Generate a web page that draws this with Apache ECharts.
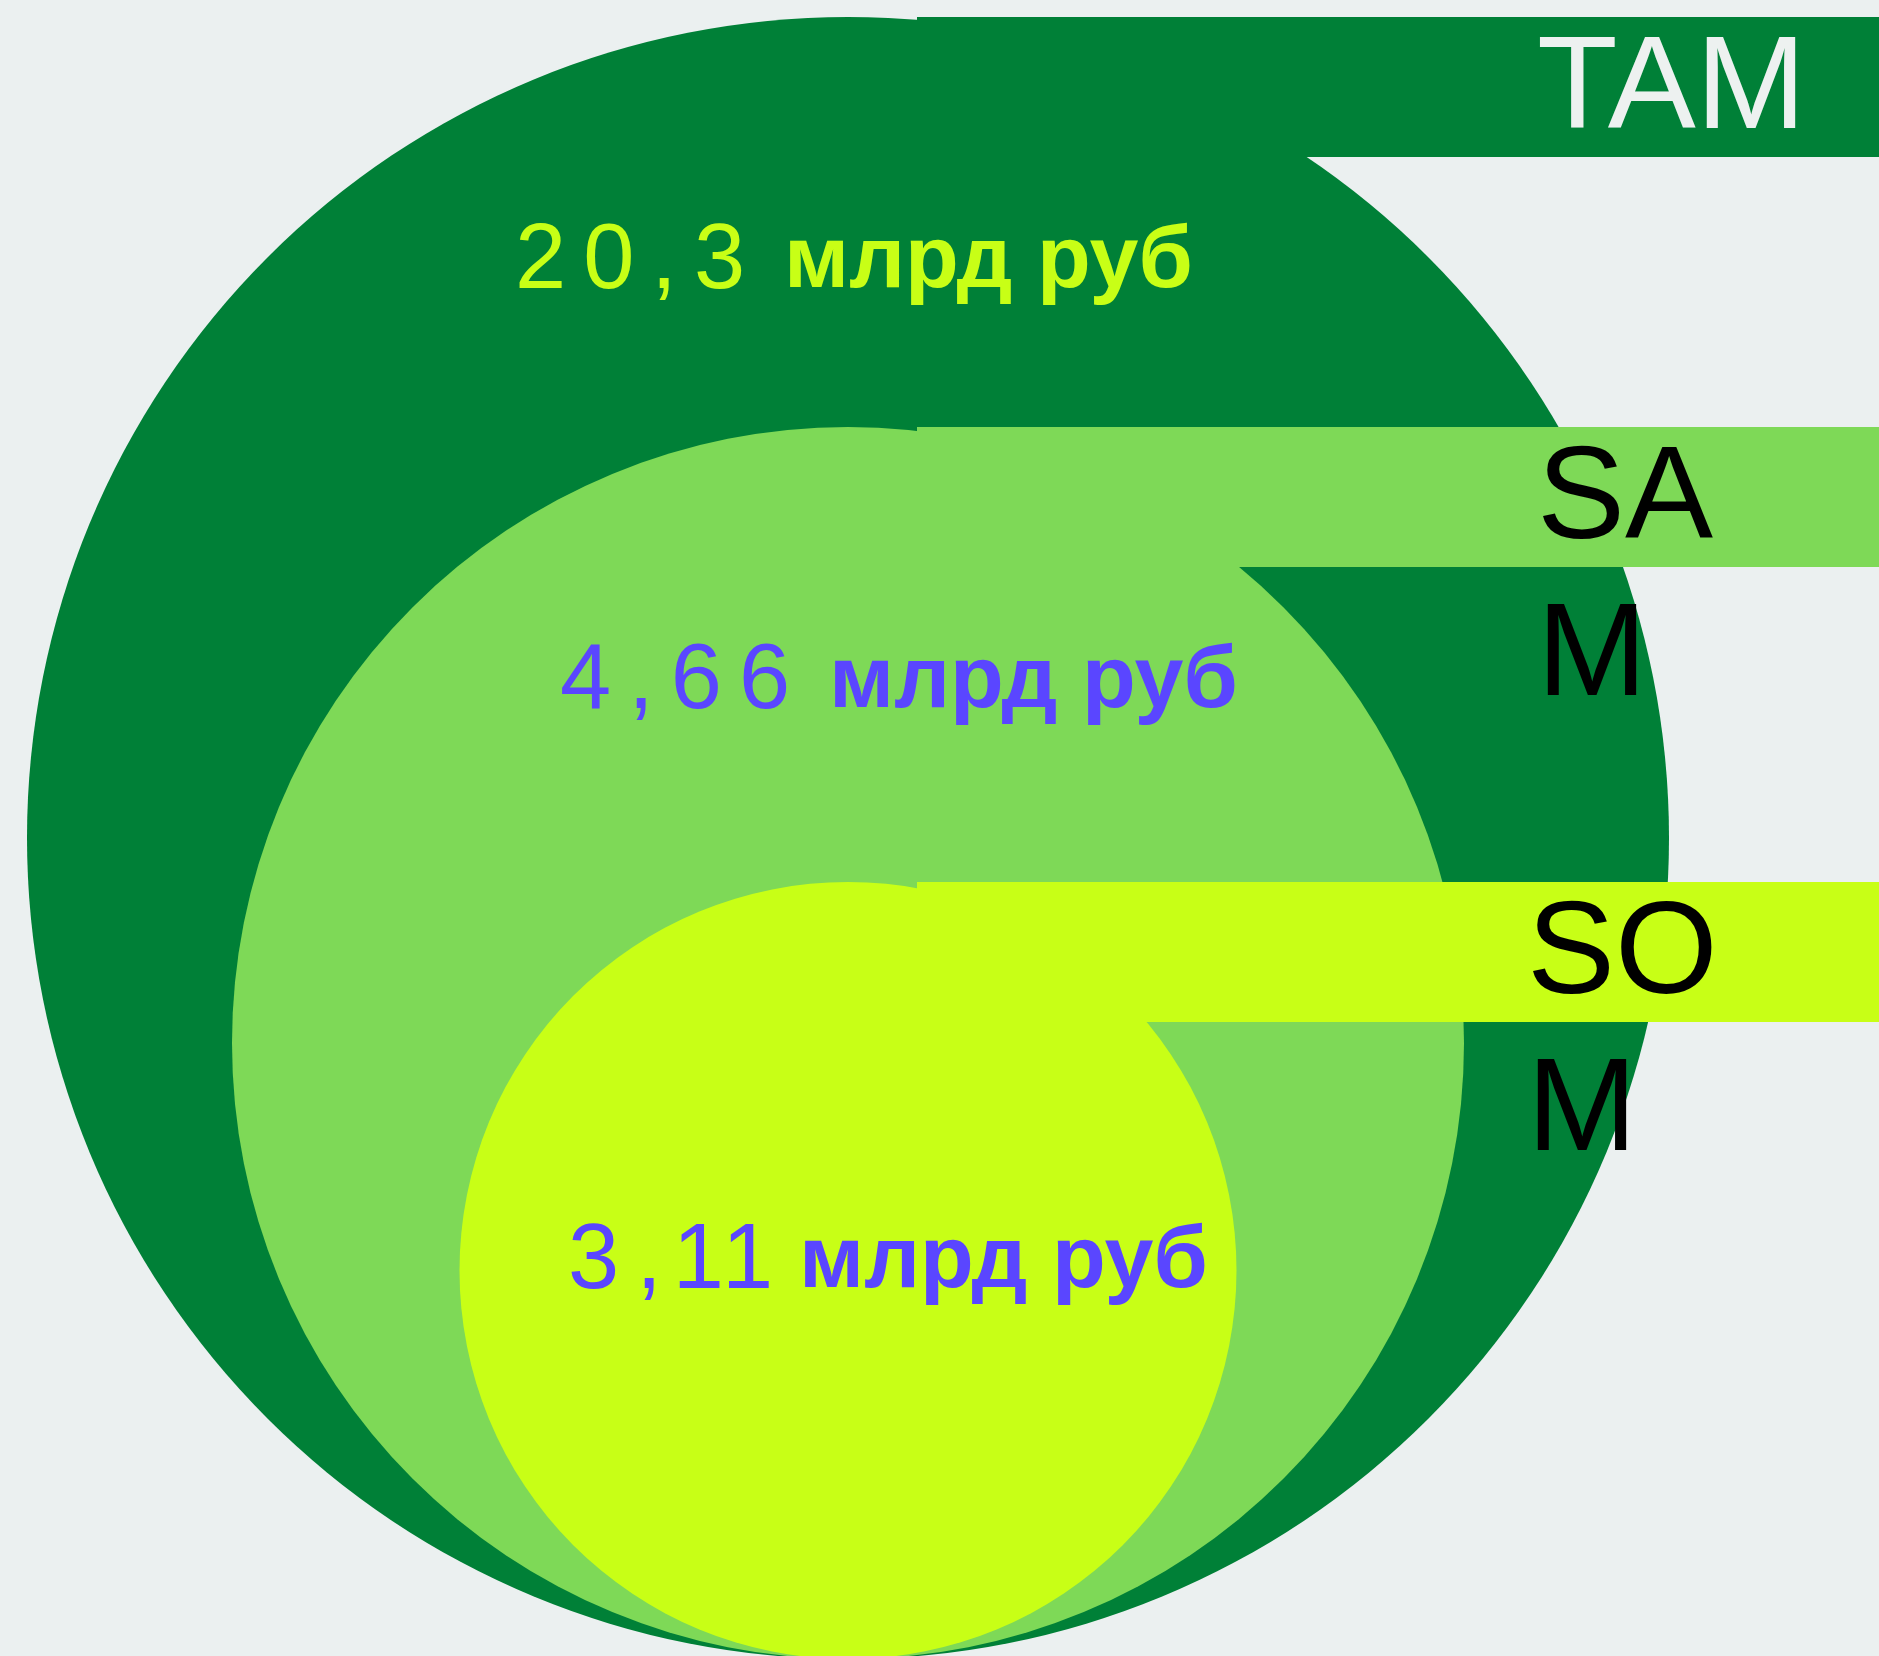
<!DOCTYPE html>
<html>
<head>
<meta charset="utf-8">
<script src="https://cdn.jsdelivr.net/npm/echarts@6/dist/echarts.min.js"></script>
<style>
  html, body { margin: 0; padding: 0; background: #ebf0f0; }
  #chart { width: 1879px; height: 1656px; }
</style>
</head>
<body>
<div id="chart"></div>
<script>
// ---- data ----
const categories = ['TAM', 'SAM', 'SOM'];
const values = [20.3, 4.66, 3.11];
const unit = 'млрд руб';

// ---- layout / styles (chart units = pixels of the 1879x1656 canvas) ----
const W = 1879, H = 1656;
const L = {
  cx: 848,
  bottom: 1659,
  r: [821, 616, 388.5],
  bannerX: 917,
  bannerH: 140,
  labelX: [1537, 1537, 1527],
  labelW: [400, 200, 200],
  valueX: [515, 560, 568],
  valueBaseline: [288, 708, 1288]
};
const fills = ['#008037', '#7ed957', '#c8ff16'];
const labelColors = ['#edf1f0', '#000000', '#000000'];
const valueColors = ['#c8ff16', '#5a46ff', '#5a46ff'];
const FONT = '"Liberation Sans", Arial, sans-serif';
const NUM_SIZE = 92;

const chart = echarts.init(document.getElementById('chart'), null, { renderer: 'canvas' });

function renderItem(params, api) {
  const i = params.dataIndex;
  const o = api.coord([0, 0]);
  const u = api.coord([1, 1]);
  const sx = u[0] - o[0];
  const r = L.r[i] * sx;
  const c = api.coord([L.cx, L.bottom - L.r[i]]);
  const topY = api.coord([0, L.bottom - 2 * L.r[i]])[1];
  const bl = api.coord([L.bannerX, 0])[0];
  const br = api.coord([W, 0])[0];
  const bh = L.bannerH * sx;
  const vx = api.coord([L.valueX[i], 0])[0];
  const vy = api.coord([0, L.valueBaseline[i] - 0.278 * NUM_SIZE])[1];

  const valStr = String(api.value(1)).replace('.', ',');
  const rich = valStr.split('').map(ch => (ch === '1' ? '{one|1}' : '{n|' + ch + '}')).join('') + '{u|' + unit + '}';

  return {
    type: 'group',
    children: [
      { type: 'circle', shape: { cx: c[0], cy: c[1], r: r }, style: { fill: fills[i] } },
      { type: 'rect', shape: { x: bl, y: topY, width: br - bl, height: bh }, style: { fill: fills[i] } },
      {
        type: 'text', x: L.labelX[i], y: topY - 4,
        style: {
          text: categories[i], fill: labelColors[i],
          fontSize: 132, fontFamily: FONT, lineHeight: 157,
          width: L.labelW[i], overflow: 'breakAll',
          align: 'left', verticalAlign: 'top'
        }
      },
      {
        type: 'text', x: vx, y: vy,
        style: {
          text: rich, align: 'left', verticalAlign: 'middle',
          rich: {
            n: { fontSize: NUM_SIZE, fontFamily: FONT, fill: valueColors[i], padding: [0, 17, 0, 0] },
            one: { fontSize: NUM_SIZE, fontFamily: FONT, fill: valueColors[i], padding: [0, 4, 0, -6] },
            u: { fontSize: 88, fontFamily: FONT, fontWeight: 'bold', fill: valueColors[i], padding: [0, 0, 0, 22] }
          }
        }
      }
    ]
  };
}

chart.setOption({
  backgroundColor: '#ebf0f0',
  animation: false,
  grid: { left: 0, right: 0, top: 0, bottom: 0 },
  xAxis: { type: 'value', min: 0, max: W, show: false },
  yAxis: { type: 'value', min: 0, max: H, inverse: true, show: false },
  series: [{
    type: 'custom',
    renderItem: renderItem,
    clip: false,
    data: categories.map((c, i) => [i, values[i]]),
    encode: { x: 0, y: 1 }
  }]
});
</script>
</body>
</html>
